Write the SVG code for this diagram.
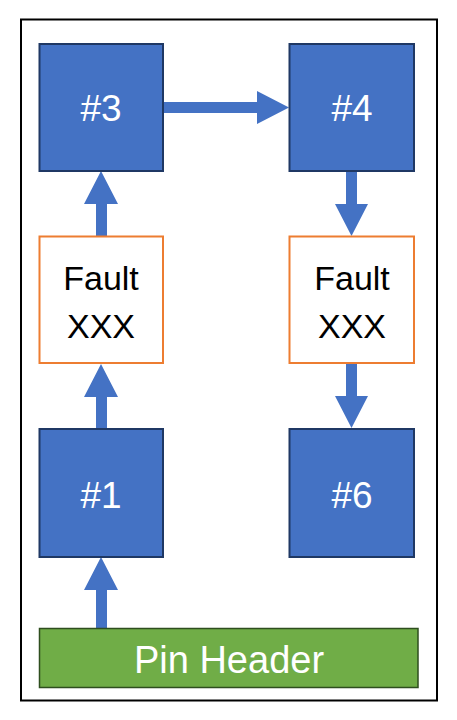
<svg xmlns="http://www.w3.org/2000/svg" width="457" height="720" viewBox="0 0 457 720">
<style>
.blk{fill:#4472C4;stroke:#1F3864;stroke-width:2}
.flt{fill:#FFFFFF;stroke:#ED7D31;stroke-width:2}
.pin{fill:#70AD47;stroke:#2E4E1E;stroke-width:1.5}
.arr{fill:#4472C4}
.wt{font-family:"Liberation Sans",Arial,sans-serif;fill:#FFFFFF;text-anchor:middle}
.bt{font-family:"Liberation Sans",Arial,sans-serif;fill:#000000;text-anchor:middle;font-size:34px}
</style>
<rect x="0" y="0" width="457" height="720" fill="#FFFFFF"/>
<rect x="21" y="19.5" width="416" height="681" fill="none" stroke="#000000" stroke-width="2"/>
<g id="connectors">
<polygon class="arr" points="163,102 257,102 257,91 289,107.5 257,124 257,113 163,113"/>
<polygon class="arr" points="96,236 96,204 84,204 101,171 118,204 107,204 107,236"/>
<polygon class="arr" points="346,171 357,171 357,204 368,204 351.5,236 335,204 346,204"/>
<polygon class="arr" points="96,429 96,397 84,397 101,364 118,397 107,397 107,429"/>
<polygon class="arr" points="346,363 357,363 357,396 368,396 351.5,428 335,396 346,396"/>
<polygon class="arr" points="96,628 96,590 84,590 101,557 118,590 107,590 107,628"/>
</g>
<g id="n3"><rect class="blk" x="39.5" y="44" width="123.5" height="127"/><text class="wt" x="101" y="121" font-size="37">#3</text></g>
<g id="n4"><rect class="blk" x="289.5" y="44" width="124.5" height="127"/><text class="wt" x="352" y="121" font-size="37">#4</text></g>
<g id="f1"><rect class="flt" x="39.5" y="236.5" width="123.5" height="126.5"/><text class="bt" x="101" y="290">Fault</text><text class="bt" x="101" y="338">XXX</text></g>
<g id="f2"><rect class="flt" x="289.5" y="236.5" width="124.5" height="126.5"/><text class="bt" x="352" y="290">Fault</text><text class="bt" x="352" y="338">XXX</text></g>
<g id="n1"><rect class="blk" x="39.5" y="429" width="123.5" height="128"/><text class="wt" x="101" y="508" font-size="37">#1</text></g>
<g id="n6"><rect class="blk" x="289.5" y="429" width="124.5" height="128"/><text class="wt" x="352" y="508" font-size="37">#6</text></g>
<g id="pin"><rect class="pin" x="39.5" y="628.5" width="378.5" height="59"/><text class="wt" x="229" y="673" font-size="38">Pin Header</text></g>
</svg>
